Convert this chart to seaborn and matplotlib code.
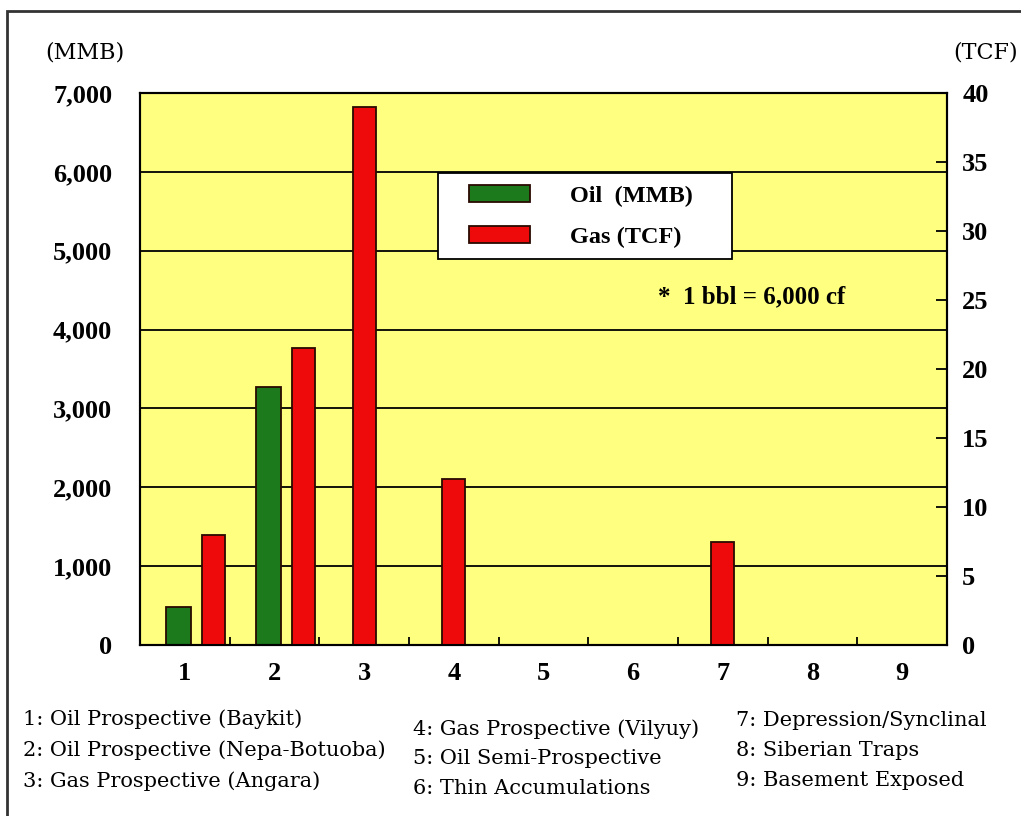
import numpy as np
import pandas as pd
import seaborn as sns
import matplotlib.pyplot as plt
from matplotlib.patches import Patch, Rectangle
from matplotlib.legend_handler import HandlerPatch

# Data
CATEGORIES = ["1", "2", "3", "4", "5", "6", "7", "8", "9"]
OIL_MMB = [485, 3266, np.nan, np.nan, np.nan, np.nan, np.nan, np.nan, np.nan]
GAS_TCF = [8.0, 21.5, 39.0, 12.0, np.nan, np.nan, 7.5, np.nan, np.nan]
LEFT_TICKS = [0, 1000, 2000, 3000, 4000, 5000, 6000, 7000]
RIGHT_TICKS = [0, 5, 10, 15, 20, 25, 30, 35, 40]
DESCRIPTIONS = [
    ["1: Oil Prospective (Baykit)", "2: Oil Prospective (Nepa-Botuoba)", "3: Gas Prospective (Angara)"],
    ["4: Gas Prospective (Vilyuy)", "5: Oil Semi-Prospective", "6: Thin Accumulations"],
    ["7: Depression/Synclinal", "8: Siberian Traps", "9: Basement Exposed"],
]

# Styling
W, H = 1021, 816
OIL_COLOR = "#1c7a1c"
GAS_COLOR = "#ee0a0a"
EDGE = "#2a0a00"
PLOT_BG = "#ffff80"
OIL_SHIFT = -0.07
GAS_SHIFT = 0.32

sns.set_style("white")
plt.rcParams["font.family"] = ["Liberation Serif", "DejaVu Serif"]
plt.rcParams["text.color"] = "black"
plt.rcParams["xtick.color"] = "black"
plt.rcParams["ytick.color"] = "black"

fig = plt.figure(figsize=(W / 100, H / 100), dpi=100)
ax = fig.add_axes([140 / W, 1 - 645 / H, 807 / W, 552 / H])
ax.set_facecolor(PLOT_BG)

oil_df = pd.DataFrame({"category": CATEGORIES, "value": OIL_MMB}).dropna()
gas_df = pd.DataFrame({"category": CATEGORIES, "value": GAS_TCF}).dropna()

sns.barplot(data=oil_df, x="category", y="value", order=CATEGORIES, color=OIL_COLOR,
            saturation=1, width=0.28, edgecolor=EDGE, linewidth=1.3, ax=ax)
ax2 = ax.twinx()
sns.barplot(data=gas_df, x="category", y="value", order=CATEGORIES, color=GAS_COLOR,
            saturation=1, width=0.26, edgecolor=EDGE, linewidth=1.3, ax=ax2)

# nudge bars: oil a touch left, gas to the right of its oil partner
has_oil = [not np.isnan(v) for v in OIL_MMB]
for p in ax.patches:
    p.set_x(p.get_x() + OIL_SHIFT)
for p in ax2.patches:
    idx = int(round(p.get_x() + p.get_width() / 2))
    if has_oil[idx]:
        p.set_x(p.get_x() + GAS_SHIFT)

ax.set_xlim(-0.5, len(CATEGORIES) - 0.5)
ax.set_ylim(0, 7000)
ax2.set_ylim(0, 40)
ax.set_xlabel("")
ax.set_ylabel("")
ax2.set_xlabel("")
ax2.set_ylabel("")

# gridlines follow the left (MMB) axis
ax.set_axisbelow(True)
ax.yaxis.grid(True, color="black", linewidth=1.3)
ax.xaxis.grid(False)

tick_font = dict(fontsize=19, fontweight="bold", family="Liberation Serif")
ax.set_yticks(LEFT_TICKS)
ax.set_yticklabels([f"{v:,}" for v in LEFT_TICKS], **tick_font)
ax.tick_params(axis="y", length=0, pad=20)

ax2.set_yticks(RIGHT_TICKS)
ax2.set_yticklabels([str(v) for v in RIGHT_TICKS], **tick_font)
ax2.tick_params(axis="y", direction="in", length=8, width=1.3, color="black", pad=11)

ax.set_xticks(range(len(CATEGORIES)))
ax.set_xticklabels(CATEGORIES, **tick_font)
ax.set_xticks(np.arange(0.5, len(CATEGORIES) - 1, 1.0), minor=True)
ax.tick_params(axis="x", which="major", length=0, pad=12)
ax.tick_params(axis="x", which="minor", direction="in", length=6, width=1.3,
               color="black", bottom=True)

for a in (ax, ax2):
    for s in a.spines.values():
        s.set_visible(True)
        s.set_color("black")
        s.set_linewidth(1.5)


# legend swatch: a 61x17 px box set in from the left of the handle slot
def swatch(legend, orig_handle, xdescent, ydescent, width, height, fontsize):
    sw, sh = 61 * 0.72, 17 * 0.72
    return Rectangle((-xdescent + 19 * 0.72, -ydescent + (height - sh) / 2), sw, sh)


handles = [Patch(facecolor=OIL_COLOR, edgecolor=EDGE, linewidth=1.3),
           Patch(facecolor=GAS_COLOR, edgecolor=EDGE, linewidth=1.3)]
leg_x0 = (438 - 140) / 807
leg_y1 = (645 - 173) / 552
leg_w = (732 - 438) / 807
leg_h = (258 - 173) / 552
leg = ax2.legend(handles, ["Oil  (MMB)", "Gas (TCF)"], loc="upper left",
                 bbox_to_anchor=(leg_x0, leg_y1 - leg_h, leg_w, leg_h), mode="expand",
                 prop=dict(family="Liberation Serif", weight="bold", size=17.5),
                 frameon=True, fancybox=False, framealpha=1, borderpad=0.48,
                 handlelength=4.2, handleheight=0.8, handletextpad=0.75,
                 labelspacing=0.72, borderaxespad=0,
                 handler_map={Patch: HandlerPatch(patch_func=swatch)})
leg.get_frame().set_edgecolor("black")
leg.get_frame().set_linewidth(1.3)

ax2.text((658 - 140) / 807, (645 - 297) / 552, "*  1 bbl = 6,000 cf",
         transform=ax.transAxes, ha="left", va="center",
         fontsize=18, fontweight="bold", family="Liberation Serif")

# axis unit labels
unit_font = dict(fontsize=16, family="DejaVu Serif", va="center")
fig.text(45 / W, 1 - 52 / H, "(MMB)", ha="left", **unit_font)
fig.text(953 / W, 1 - 52 / H, "(TCF)", ha="left", **unit_font)

# category descriptions under the chart
col_x = [23, 413, 736]
col_y = [[719, 750, 781], [729, 759, 789], [720, 751, 781]]
for cx, cys, lines in zip(col_x, col_y, DESCRIPTIONS):
    for cy, txt in zip(cys, lines):
        fig.text(cx / W, 1 - cy / H, txt, ha="left", va="center",
                 fontsize=15, family="DejaVu Serif")

# outer frame, runs off the right and bottom of the picture
fig.add_artist(Rectangle((7 / W, -0.05), 1.2, 1.05 - 11 / H, transform=fig.transFigure,
                         fill=False, edgecolor="#333333", linewidth=2))

fig.savefig("out.png", dpi=100, facecolor="white")
